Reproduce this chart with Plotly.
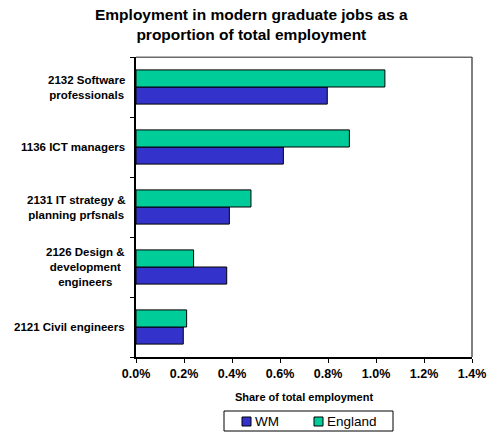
import plotly.graph_objects as go

# Occupations, listed bottom to top as they appear on the axis
occupations = [
    "2121 Civil engineers",
    "2126 Design &<br>development<br>engineers",
    "2131 IT strategy &<br>planning prfsnals",
    "1136 ICT managers",
    "2132 Software<br>professionals",
]
wm_share = [0.00197, 0.00378, 0.00389, 0.00614, 0.00797]
england_share = [0.00211, 0.00240, 0.00479, 0.00889, 0.01037]
x_ticks = [0, 0.002, 0.004, 0.006, 0.008, 0.010, 0.012, 0.014]

series_names = ["WM", "England"]
series_colors = ["#3333CC", "#00CC99"]

FONT = "Liberation Sans, Arial, sans-serif"
W, H = 487, 432
ML, MR, MT, MB = 136, 15, 57, 75
PW, PH = W - ML - MR, H - MT - MB


def px_x(px):
    """Pixel column -> paper x."""
    return (px - ML) / PW


def px_y(py):
    """Pixel row (from top) -> paper y."""
    return (H - MB - py) / PH


fig = go.Figure()
for name, vals, col in zip(series_names, [wm_share, england_share], series_colors):
    fig.add_trace(go.Bar(
        y=occupations, x=vals, orientation="h", name=name,
        marker=dict(color=col, line=dict(color="#000000", width=1)),
    ))

annotations = [
    dict(
        text="<b>Employment in modern graduate jobs as a<br>proportion of total employment</b>",
        xref="paper", yref="paper", x=px_x(251), y=px_y(25),
        xanchor="center", yanchor="middle", align="center", showarrow=False,
        font=dict(size=15.5, family=FONT, color="black"),
    )
]
# category labels, centred line by line, to the left of the axis
for cat in occupations:
    annotations.append(dict(
        text=f"<b>{cat}</b>", xref="paper", yref="y", x=0, y=cat,
        xanchor="right", yanchor="middle", align="center", xshift=-9,
        showarrow=False, font=dict(size=11.5, family=FONT, color="black"),
    ))

shapes = [
    # top and right frame edges, in grey
    dict(type="rect", xref="paper", yref="paper", x0=0, x1=1,
         y0=px_y(58), y1=px_y(56.5),
         line=dict(width=0), fillcolor="#6a6a6a"),
    dict(type="line", xref="paper", yref="paper", x0=1, x1=1, y0=0, y1=1,
         line=dict(color="#555555", width=1.5)),
    # hand-drawn legend box
    dict(type="rect", xref="paper", yref="paper",
         x0=px_x(224), x1=px_x(393), y0=px_y(431), y1=px_y(411),
         line=dict(color="black", width=1), fillcolor="white"),
]
legend_items = [(242, 253), (314, 325)]
for (sx, tx), name, col in zip(legend_items, series_names, series_colors):
    shapes.append(dict(
        type="rect", xref="paper", yref="paper",
        x0=px_x(sx), x1=px_x(sx + 9), y0=px_y(426), y1=px_y(417),
        line=dict(color="black", width=1), fillcolor=col,
    ))
    annotations.append(dict(
        text=name, xref="paper", yref="paper", x=px_x(tx), y=px_y(421.5),
        xanchor="left", yanchor="middle", showarrow=False,
        font=dict(size=13.5, family=FONT, color="black"),
    ))

fig.update_layout(
    width=W, height=H,
    margin=dict(l=ML, r=MR, t=MT, b=MB, autoexpand=False),
    paper_bgcolor="white", plot_bgcolor="white",
    barmode="group", bargap=0.43, bargroupgap=0,
    font=dict(family=FONT, color="black"),
    showlegend=False,
    annotations=annotations,
    shapes=shapes,
)

fig.update_xaxes(
    range=[0, 0.014], tickvals=x_ticks,
    ticktext=[f"<b>{v*100:.1f}%</b>" for v in x_ticks],
    tickfont=dict(size=12.5, family=FONT),
    showgrid=False, zeroline=False,
    showline=True, linecolor="black", linewidth=1.5,
    ticks="outside", ticklen=4, tickcolor="black",
    title=dict(text="<b>Share of total employment</b>", font=dict(size=11), standoff=14),
)

fig.update_yaxes(
    categoryorder="array", categoryarray=occupations,
    showticklabels=False,
    showgrid=False, zeroline=False,
    showline=True, linecolor="black", linewidth=1.5,
    ticks="outside", ticklen=4, tickcolor="black", tickson="boundaries",
)

fig.write_html("out.html")
